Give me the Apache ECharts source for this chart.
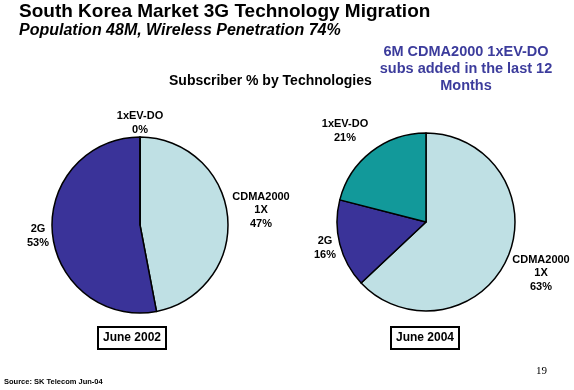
<!DOCTYPE html>
<html>
<head>
<meta charset="utf-8">
<script src="https://cdn.jsdelivr.net/npm/echarts@6/dist/echarts.min.js"></script>
<style>
html,body{margin:0;padding:0;background:#fff;}
#c{width:574px;height:390px;}
</style>
</head>
<body>
<div id="c"></div>
<script>
// ---- data ----
const categories = ['CDMA2000 1X', '2G', '1xEV-DO'];
const june2002 = [47, 53, 0];
const june2004 = [63, 16, 21];
const periods = ['June 2002', 'June 2004'];
const mainTitle = 'South Korea Market 3G Technology Migration';
const subTitle = 'Population 48M, Wireless Penetration 74%';
const chartHeading = 'Subscriber % by Technologies';
const note = '6M CDMA2000 1xEV-DO\nsubs added in the last 12\nMonths';
const source = 'Source: SK Telecom Jun-04';
const pageNum = '19';

// ---- styling / layout ----
const FONT = 'Liberation Sans, Arial, sans-serif';
const colors = ['#bfe0e4', '#3a3399', '#12999a'];
const labelPos2002 = [[261, 210], [38, 236], [140, 123]];
const labelPos2004 = [[541, 273], [325, 248], [345, 131]];

function mkData(vals) {
  return categories.map((n, i) => ({ name: n, value: vals[i], itemStyle: { color: colors[i] } }));
}
function labelFmt(p) {
  return p.name.replace(' ', '\n') + '\n' + p.value + '%';
}
function mkPie(vals, center, radius, pos) {
  return {
    type: 'pie',
    center: center,
    radius: radius,
    startAngle: 90,
    clockwise: true,
    avoidLabelOverlap: false,
    animation: false,
    silent: true,
    data: mkData(vals),
    itemStyle: { borderColor: '#000', borderWidth: 1.5 },
    label: {
      show: true,
      formatter: labelFmt,
      color: '#000',
      fontFamily: FONT,
      fontWeight: 'bold',
      fontSize: 11,
      lineHeight: 13.5,
      align: 'center'
    },
    labelLine: { show: false },
    labelLayout: function (p) {
      const q = pos[p.dataIndex];
      return { x: q[0], y: q[1], align: 'center', verticalAlign: 'middle' };
    }
  };
}

const chart = echarts.init(document.getElementById('c'), null, { renderer: 'canvas' });
chart.setOption({
  backgroundColor: '#fff',
  animation: false,
  title: [
    { text: mainTitle, left: 19, top: 2, padding: 0,
      textStyle: { fontFamily: FONT, fontWeight: 'bold', fontSize: 19, color: '#000' } },
    { text: subTitle, left: 19, top: 23, padding: 0,
      textStyle: { fontFamily: FONT, fontWeight: 'bold', fontStyle: 'italic', fontSize: 16, color: '#000' } },
    { text: chartHeading, left: 169, top: 74, padding: 0,
      textStyle: { fontFamily: FONT, fontWeight: 'bold', fontSize: 14, color: '#000' } },
    { text: note, left: 466, top: 43, padding: 0, textAlign: 'center',
      textStyle: { fontFamily: FONT, fontWeight: 'bold', fontSize: 14.5, lineHeight: 17, color: '#3c3c9c', align: 'center' } },
    { text: periods[0], left: 98, top: 327, padding: [5, 5, 5, 5], borderColor: '#000', borderWidth: 2,
      textStyle: { fontFamily: FONT, fontWeight: 'bold', fontSize: 12, color: '#000' } },
    { text: periods[1], left: 391, top: 327, padding: [5, 5, 5, 5], borderColor: '#000', borderWidth: 2,
      textStyle: { fontFamily: FONT, fontWeight: 'bold', fontSize: 12, color: '#000' } },
    { text: pageNum, left: 536, top: 366, padding: 0,
      textStyle: { fontFamily: 'Liberation Serif, Times New Roman, serif', fontWeight: 'normal', fontSize: 11, color: '#000' } },
    { text: source, left: 4, top: 378, padding: 0,
      textStyle: { fontFamily: FONT, fontWeight: 'bold', fontSize: 7.5, color: '#000' } }
  ],
  series: [
    mkPie(june2002, [140, 225], 88, labelPos2002),
    mkPie(june2004, [426, 222], 89, labelPos2004)
  ]
});
</script>
</body>
</html>
